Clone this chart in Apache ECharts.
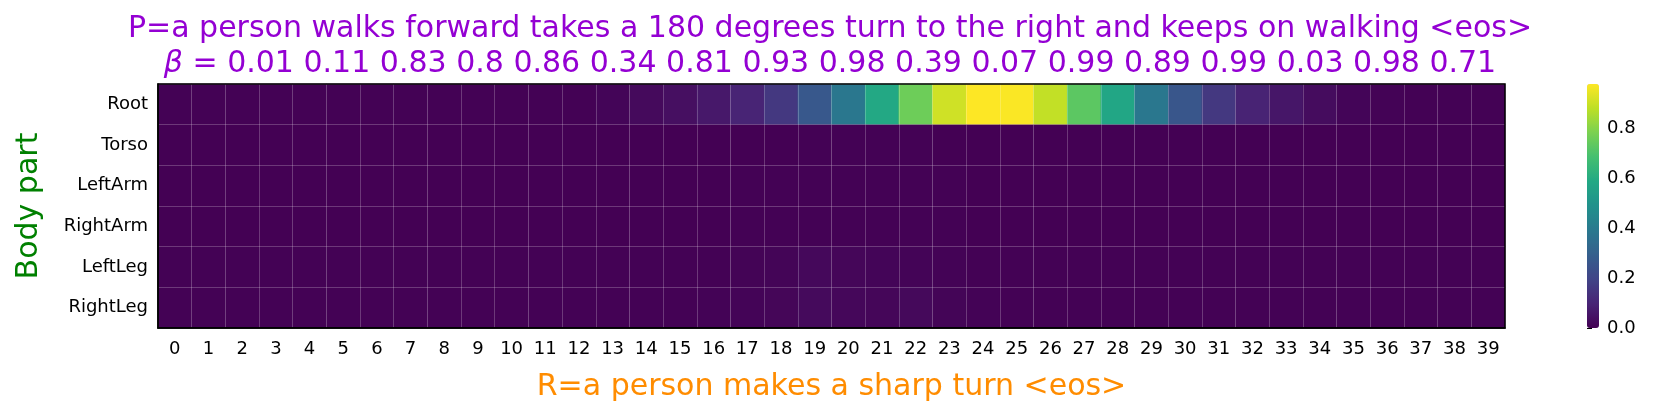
<!DOCTYPE html>
<html>
<head>
<meta charset="utf-8">
<title>heatmap</title>
<script src="https://cdn.jsdelivr.net/npm/echarts@6/dist/echarts.min.js"></script>
<style>
  html, body { margin: 0; padding: 0; background: #fff; }
  #chart { width: 1660px; height: 414px; }
</style>
</head>
<body>
<div id="chart"></div>
<script>
// column labels 0..39
var steps = ['0','1','2','3','4','5','6','7','8','9','10','11','12','13','14','15','16','17','18','19',
             '20','21','22','23','24','25','26','27','28','29','30','31','32','33','34','35','36','37','38','39'];
var parts = ['Root', 'Torso', 'LeftArm', 'RightArm', 'LeftLeg', 'RightLeg'];

var rootVals = [0.003, 0.003, 0.003, 0.003, 0.003, 0.003, 0.003, 0.003, 0.003, 0.003,
                0.003, 0.003, 0.004, 0.012, 0.025, 0.04, 0.065, 0.097, 0.16, 0.27,
                0.39, 0.59, 0.76, 0.91, 0.98, 0.975, 0.89, 0.73, 0.58, 0.39,
                0.26, 0.16, 0.095, 0.058, 0.03, 0.012, 0.006, 0.003, 0.002, 0.002];
var torsoVals = [0.001, 0.001, 0.001, 0.001, 0.001, 0.001, 0.001, 0.001, 0.001, 0.001,
                 0.001, 0.001, 0.001, 0.001, 0.001, 0.001, 0.001, 0.001, 0.001, 0.002,
                 0.002, 0.002, 0.002, 0.001, 0.001, 0.001, 0.001, 0.001, 0.001, 0.001,
                 0.001, 0.001, 0.001, 0.001, 0.001, 0.001, 0.001, 0.001, 0.001, 0.001];
var leftArmVals = [0.001, 0.001, 0.001, 0.001, 0.001, 0.001, 0.001, 0.001, 0.001, 0.001,
                   0.001, 0.001, 0.001, 0.001, 0.001, 0.001, 0.001, 0.002, 0.002, 0.003,
                   0.003, 0.003, 0.002, 0.002, 0.001, 0.001, 0.001, 0.001, 0.001, 0.001,
                   0.001, 0.001, 0.001, 0.001, 0.001, 0.001, 0.001, 0.001, 0.001, 0.001];
var rightArmVals = [0.001, 0.001, 0.001, 0.001, 0.001, 0.001, 0.001, 0.001, 0.001, 0.001,
                    0.001, 0.001, 0.001, 0.001, 0.001, 0.001, 0.001, 0.002, 0.002, 0.003,
                    0.003, 0.003, 0.002, 0.002, 0.001, 0.001, 0.001, 0.001, 0.001, 0.001,
                    0.001, 0.001, 0.001, 0.001, 0.001, 0.001, 0.001, 0.001, 0.001, 0.001];
var leftLegVals = [0.002, 0.002, 0.002, 0.002, 0.002, 0.002, 0.002, 0.002, 0.002, 0.002,
                   0.002, 0.002, 0.002, 0.002, 0.002, 0.003, 0.004, 0.007, 0.01, 0.02,
                   0.015, 0.012, 0.008, 0.005, 0.003, 0.002, 0.002, 0.002, 0.002, 0.002,
                   0.002, 0.002, 0.002, 0.002, 0.002, 0.002, 0.002, 0.002, 0.002, 0.002];
var rightLegVals = [0.002, 0.002, 0.002, 0.002, 0.002, 0.002, 0.002, 0.002, 0.002, 0.002,
                    0.002, 0.002, 0.002, 0.002, 0.002, 0.003, 0.005, 0.009, 0.013, 0.024,
                    0.018, 0.015, 0.022, 0.01, 0.006, 0.003, 0.002, 0.002, 0.002, 0.002,
                    0.002, 0.002, 0.002, 0.002, 0.002, 0.002, 0.002, 0.002, 0.002, 0.002];
var betas = ['0.01', '0.11', '0.83', '0.8', '0.86', '0.34', '0.81', '0.93', '0.98',
             '0.39', '0.07', '0.99', '0.89', '0.99', '0.03', '0.98', '0.71'];
var barTicks = [0, 0.2, 0.4, 0.6, 0.8];
var vMax = 0.98;

var viridis = ['#440154', '#482475', '#414487', '#355f8d', '#2a788e', '#21918c',
               '#22a884', '#44bf70', '#7ad151', '#bddf26', '#fde725'];

var rows = [rootVals, torsoVals, leftArmVals, rightArmVals, leftLegVals, rightLegVals];
var cells = [];
rows.forEach(function (vals, r) {
  vals.forEach(function (v, c) {
    cells.push([c, r, v]);
  });
});

var myChart = echarts.init(document.getElementById('chart'));
var options = {
  backgroundColor: '#fff',
  textStyle: { fontFamily: 'DejaVu Sans' },
  title: {
    text: 'P=a person walks forward takes a 180 degrees turn to the right and keeps on walking <eos>\n{b|β} = ' + betas.join(' '),
    left: 'center',
    top: 12,
    padding: 0,
    textStyle: {
      color: '#9400D3',
      fontSize: 30,
      fontWeight: 'normal',
      lineHeight: 35,
      rich: {
        b: { fontStyle: 'italic', color: '#9400D3', fontSize: 30, lineHeight: 35 }
      }
    }
  },
  grid: [
    { left: 158, right: 155, top: 84, bottom: 86, show: true, z: 6,
      backgroundColor: 'transparent', borderColor: '#000', borderWidth: 1.5 },
    { left: 1587, width: 12, top: 84, bottom: 86, show: false }
  ],
  xAxis: [{
    type: 'category',
    data: steps,
    gridIndex: 0,
    z: 5,
    name: 'R=a person makes a sharp turn <eos>',
    nameLocation: 'middle',
    nameGap: 44,
    nameTextStyle: { color: '#FF8C00', fontSize: 30 },
    axisLine: { show: true, lineStyle: { color: '#000', width: 1.5 } },
    axisTick: { alignWithLabel: true, length: 5, lineStyle: { color: '#000' } },
    axisLabel: { interval: 0, color: '#000', fontSize: 18, margin: 12 },
    splitLine: { show: true, interval: 0, lineStyle: { color: 'rgba(255,255,255,0.22)', width: 1 } }
  }, {
    type: 'value',
    gridIndex: 1,
    show: false
  }],
  yAxis: [{
    type: 'category',
    data: parts,
    inverse: true,
    gridIndex: 0,
    z: 5,
    name: 'Body part',
    nameLocation: 'middle',
    nameGap: 114,
    nameRotate: 90,
    nameTextStyle: { color: '#008000', fontSize: 30 },
    axisLine: { show: true, lineStyle: { color: '#000', width: 1.5 } },
    axisTick: { alignWithLabel: true, length: 5, lineStyle: { color: '#000' } },
    axisLabel: { color: '#000', fontSize: 18, margin: 10 },
    splitLine: { show: true, interval: 0, lineStyle: { color: 'rgba(255,255,255,0.22)', width: 1 } }
  }, {
    // colorbar scale
    type: 'value',
    gridIndex: 1,
    min: 0,
    max: vMax,
    position: 'right',
    axisLine: { show: false },
    axisTick: { show: true, length: 5, customValues: barTicks, lineStyle: { color: '#000' } },
    axisLabel: {
      color: '#000', fontSize: 18, margin: 8, customValues: barTicks,
      formatter: function (v) { return v.toFixed(1); }
    },
    splitLine: { show: false }
  }],
  visualMap: {
    type: 'continuous',
    min: 0,
    max: vMax,
    seriesIndex: 0,
    calculable: false,
    orient: 'vertical',
    left: 1587,
    top: 84,
    padding: 0,
    itemWidth: 12,
    itemHeight: 244,
    text: null,
    inRange: { color: viridis }
  },
  series: [{
    type: 'heatmap',
    xAxisIndex: 0,
    yAxisIndex: 0,
    data: cells,
    progressive: 0,
    emphasis: { disabled: true }
  }]
};
myChart.setOption(options);
</script>
</body>
</html>
